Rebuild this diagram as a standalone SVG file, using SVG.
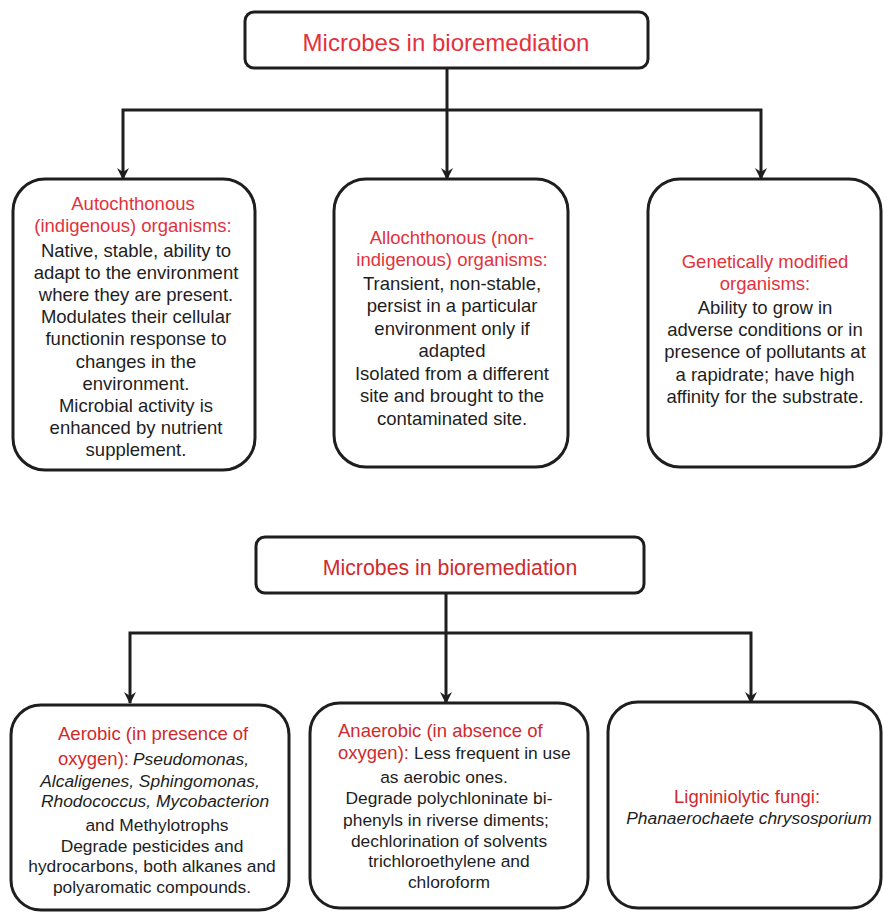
<svg xmlns="http://www.w3.org/2000/svg" width="883" height="913" viewBox="0 0 883 913">
  <defs>
    <style>
      .box { fill: #ffffff; stroke: #1e1e1e; stroke-width: 3; }
      .wire { fill: none; stroke: #1e1e1e; stroke-width: 3; }
      .head { font-family: "Liberation Sans", Arial, sans-serif; fill: #e3323c; text-anchor: middle; }
      .head2 { font-family: "Liberation Sans", Arial, sans-serif; fill: #cf2a2c; }
      .body { font-family: "Liberation Sans", Arial, sans-serif; fill: #1e1e1e; text-anchor: middle; font-size: 18.5px; }
      .body2 { font-family: "Liberation Sans", Arial, sans-serif; fill: #1e1e1e; font-size: 17.4px; }
      .it { font-style: italic; }
    </style>
    <marker id="arrow" viewBox="0 0 12 12" refX="11" refY="6" markerWidth="12" markerHeight="12" markerUnits="userSpaceOnUse" orient="auto">
      <path d="M0,0 L12,6 L0,12 L4,6 z" fill="#1e1e1e"/>
    </marker>
  </defs>
  <rect width="883" height="913" fill="#ffffff"/>

  <!-- connectors: trunk, bus, and one arrowed drop per child -->
  <g id="connectors">
    <path class="wire" d="M447,68 V110"/>
    <path class="wire" d="M447,110 H123 V179" marker-end="url(#arrow)"/>
    <path class="wire" d="M447,110 H761 V179" marker-end="url(#arrow)"/>
    <path class="wire" d="M447,110 V179" marker-end="url(#arrow)"/>
    <path class="wire" d="M446,593 V633"/>
    <path class="wire" d="M446,633 H130 V703" marker-end="url(#arrow)"/>
    <path class="wire" d="M446,633 H751 V703" marker-end="url(#arrow)"/>
    <path class="wire" d="M446,633 V703" marker-end="url(#arrow)"/>
  </g>

  <!-- upper tree -->
  <g id="root-top">
    <rect class="box" x="245" y="12" width="403" height="56" rx="9"/>
    <text class="head" x="446" y="50.5" font-size="24">Microbes in bioremediation</text>
  </g>

  <g id="autochthonous">
    <rect class="box" x="13" y="179" width="242" height="291" rx="32"/>
    <text class="head" x="133" y="209.5" font-size="18.5">Autochthonous</text>
    <text class="head" x="133" y="231.5" font-size="18.5">(indigenous) organisms:</text>
    <text class="body" x="136" y="256.5">Native, stable, ability to</text>
    <text class="body" x="136" y="278.7">adapt to the environment</text>
    <text class="body" x="136" y="300.9">where they are present.</text>
    <text class="body" x="136" y="323.1">Modulates their cellular</text>
    <text class="body" x="136" y="345.3">functionin response to</text>
    <text class="body" x="136" y="367.5">changes in the</text>
    <text class="body" x="136" y="389.7">environment.</text>
    <text class="body" x="136" y="411.9">Microbial activity is</text>
    <text class="body" x="136" y="434.1">enhanced by nutrient</text>
    <text class="body" x="136" y="456.3">supplement.</text>
  </g>

  <g id="allochthonous">
    <rect class="box" x="334" y="179" width="234" height="288" rx="32"/>
    <text class="head" x="452" y="243.5" font-size="18.5">Allochthonous (non-</text>
    <text class="head" x="452" y="266" font-size="18.5">indigenous) organisms:</text>
    <text class="body" x="452" y="289.5">Transient, non-stable,</text>
    <text class="body" x="452" y="312">persist in a particular</text>
    <text class="body" x="452" y="334.5">environment only if</text>
    <text class="body" x="452" y="357">adapted</text>
    <text class="body" x="452" y="379.5">Isolated from a different</text>
    <text class="body" x="452" y="402">site and brought to the</text>
    <text class="body" x="452" y="424.5">contaminated site.</text>
  </g>

  <g id="gmo">
    <rect class="box" x="648" y="179" width="233" height="288" rx="32"/>
    <text class="head" x="765" y="267.5" font-size="18.5">Genetically modified</text>
    <text class="head" x="765" y="289.5" font-size="18.5">organisms:</text>
    <text class="body" x="765" y="313.5">Ability to grow in</text>
    <text class="body" x="765" y="335.5">adverse conditions or in</text>
    <text class="body" x="765" y="358">presence of pollutants at</text>
    <text class="body" x="765" y="380.5">a rapidrate; have high</text>
    <text class="body" x="765" y="403">affinity for the substrate.</text>
  </g>

  <!-- lower tree -->
  <g id="root-bottom">
    <rect class="box" x="256" y="537" width="388" height="56" rx="9"/>
    <text class="head2" x="450" y="574.5" font-size="21.3" text-anchor="middle">Microbes in bioremediation</text>
  </g>

  <g id="aerobic">
    <rect class="box" x="11" y="705" width="278" height="205" rx="30"/>
    <text class="head2" x="58" y="739.5" font-size="18.5">Aerobic (in presence of</text>
    <text x="58" y="764.5"><tspan class="head2" font-size="18.5">oxygen):</tspan><tspan class="body2 it" dx="4">Pseudomonas,</tspan></text>
    <text class="body2 it" x="150" y="787" text-anchor="middle">Alcaligenes, Sphingomonas,</text>
    <text class="body2 it" x="155" y="807" text-anchor="middle">Rhodococcus, Mycobacterion</text>
    <text class="body2" x="157" y="831" text-anchor="middle" font-size="18">and Methylotrophs</text>
    <text class="body2" x="152" y="852" text-anchor="middle">Degrade pesticides and</text>
    <text class="body2" x="152" y="872" text-anchor="middle">hydrocarbons, both alkanes and</text>
    <text class="body2" x="152" y="893" text-anchor="middle">polyaromatic compounds.</text>
  </g>

  <g id="anaerobic">
    <rect class="box" x="310" y="703" width="278" height="205" rx="30"/>
    <text class="head2" x="338" y="736.5" font-size="18.5">Anaerobic (in absence of</text>
    <text x="338" y="758.5"><tspan class="head2" font-size="18.5">oxygen):</tspan><tspan class="body2" dx="5">Less frequent in use</tspan></text>
    <text class="body2" x="444" y="783" text-anchor="middle">as aerobic ones.</text>
    <text class="body2" x="449" y="804" text-anchor="middle">Degrade polychloninate bi-</text>
    <text class="body2" x="446" y="826" text-anchor="middle">phenyls in riverse diments;</text>
    <text class="body2" x="449" y="847" text-anchor="middle">dechlorination of solvents</text>
    <text class="body2" x="449" y="867" text-anchor="middle">trichloroethylene and</text>
    <text class="body2" x="449" y="888" text-anchor="middle">chloroform</text>
  </g>

  <g id="ligninolytic">
    <rect class="box" x="608" y="702" width="273" height="206" rx="30"/>
    <text class="head2" x="747" y="802.5" font-size="18.5" text-anchor="middle">Ligniniolytic fungi:</text>
    <text class="body2 it" x="749" y="824" text-anchor="middle">Phanaerochaete chrysosporium</text>
  </g>
</svg>
